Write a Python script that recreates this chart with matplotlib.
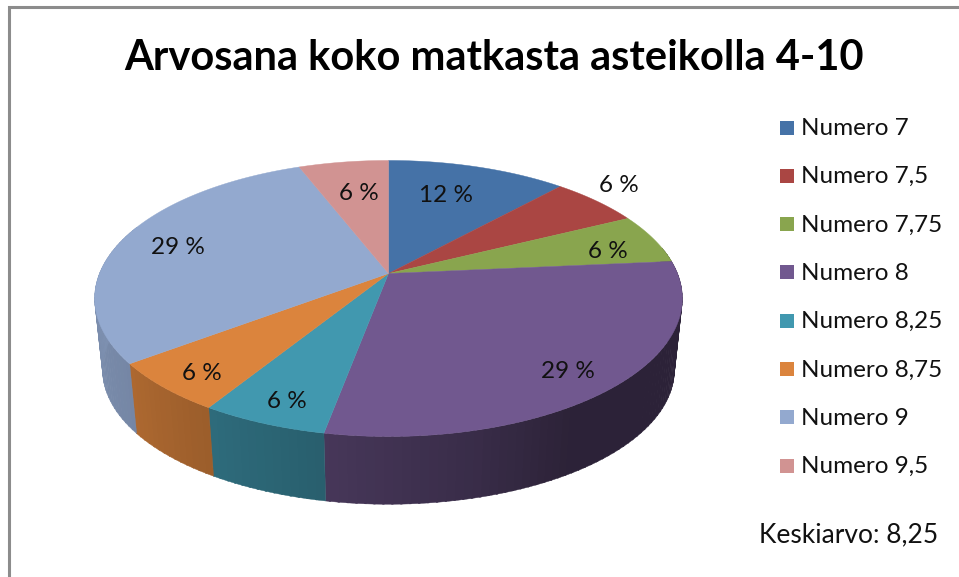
import numpy as np
import matplotlib
matplotlib.use('Agg')
import matplotlib.pyplot as plt
from matplotlib.colors import to_rgb

labels = ['Numero 7', 'Numero 7,5', 'Numero 7,75', 'Numero 8',
          'Numero 8,25', 'Numero 8,75', 'Numero 9', 'Numero 9,5']
# answer counts, 17 in total, these give the rounded percents on the slices
counts = [2, 1, 1, 5, 1, 1, 5, 1]
colors = ['#4572a7', '#aa4643', '#89a54e', '#71588f',
          '#4198af', '#db843d', '#93a9cf', '#d19392']
title = 'Arvosana koko matkasta asteikolla 4-10'
note = 'Keskiarvo: 8,25'

plt.rcParams['font.family'] = ['Lato', 'DejaVu Sans']
W, H = 959, 577
CX, CY = 388.5, 273.5
A, B, K = 289, 133.5, 0.181
EY = 298      # centre of the top ellipse
EY2 = 369.5   # centre of the bottom ellipse
SCALE = 0.973


def project(theta):
    # theta clockwise from the top of the tilted disc
    x, y = np.sin(theta), -np.cos(theta)
    d = 1 - K * y
    return CX + A * x / d, CY + B * y / d


def lower(x, y):
    return CX + (x - CX) * SCALE, EY2 + (y - EY) * SCALE


def shade(theta):
    return np.interp(np.degrees(theta), [148, 165, 190, 235, 275],
                     [0.39, 0.50, 0.62, 0.80, 0.86])


fig = plt.figure(figsize=(W / 100, H / 100), dpi=100)
ax = fig.add_axes([0, 0, 1, 1])
ax.set_xlim(0, W)
ax.set_ylim(H, 0)
ax.axis('off')

edges = np.radians(np.cumsum([0] + counts) * 360 / sum(counts))
total = sum(counts)

# side wall, only the part that faces the viewer
for i, c in enumerate(colors):
    t0, t1 = edges[i], edges[i + 1]
    for s in np.arange(t0, t1, np.radians(1.5)):
        if np.degrees(s) < 78 or np.degrees(s) > 290:
            continue
        e = min(s + np.radians(1.8), t1)
        x0, y0 = project(s)
        x1, y1 = project(e)
        bx0, by0 = lower(x0, y0)
        bx1, by1 = lower(x1, y1)
        col = np.array(to_rgb(c)) * shade((s + e) / 2)
        ax.fill([x0, x1, bx1, bx0], [y0, y1, by1, by0], color=col, lw=0.3)

# top face
for i, c in enumerate(colors):
    th = np.linspace(edges[i], edges[i + 1], 120)
    x, y = project(th)
    ax.fill(np.r_[CX, x], np.r_[CY, y], color=c, lw=0.3)

# percent labels
label_pos = [(446, 196), (619, 186), (608, 251), (568, 372),
             (287, 402), (202, 374), (178, 248), (359, 193)]
for (px, py), v in zip(label_pos, counts):
    ax.text(px, py, f'{round(v / total * 100)} %', ha='center', va='center',
            fontsize=17.5, color='#111111')

# frame, open to the right and bottom
ax.plot([9, 9, W], [H, 7, 7], color='#8c8c8c', lw=2.2, solid_joinstyle='miter')

ax.text(494, 57.5, title, ha='center', va='center', fontsize=30,
        fontweight='bold', color='black')

# legend
for i, (lab, c) in enumerate(zip(labels, colors)):
    yy = 127.5 + i * 48.3
    ax.fill([780, 794, 794, 780], [yy - 7, yy - 7, yy + 7, yy + 7], color=c, lw=0)
    ax.text(801, yy + 1, lab, ha='left', va='center', fontsize=17.5, color='#111111')

ax.text(849, 535, note, ha='center', va='center', fontsize=19, color='#111111')

fig.savefig('out.png', dpi=100)
